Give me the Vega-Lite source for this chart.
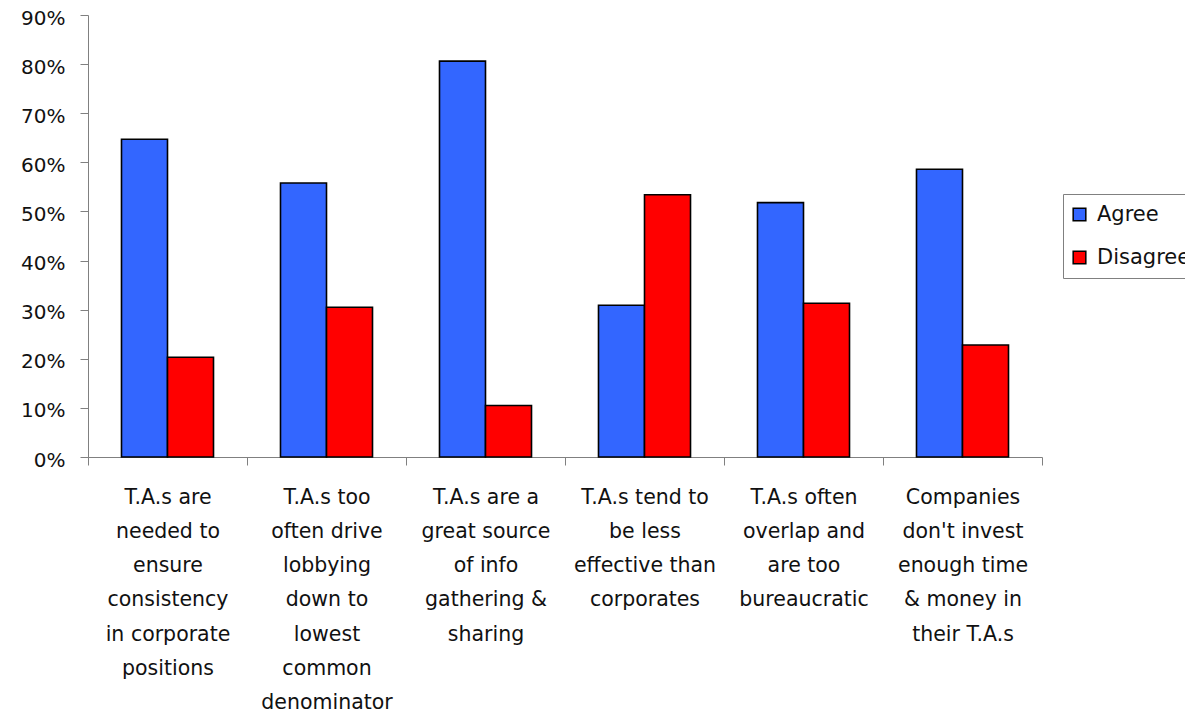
{
  "$schema": "https://vega.github.io/schema/vega-lite/v6.json",
  "width": 954,
  "height": 442,
  "autosize": "none",
  "padding": {"left": 88, "top": 15, "right": 143, "bottom": 256},
  "background": "white",
  "config": {"view": {"stroke": null}, "font": "DejaVu Sans"},
  "data": {
    "values": [
      {"statement": "T.A.s are|needed to|ensure|consistency|in corporate|positions", "response": "Agree", "share": 0.647},
      {"statement": "T.A.s are|needed to|ensure|consistency|in corporate|positions", "response": "Disagree", "share": 0.203},
      {"statement": "T.A.s too|often drive|lobbying|down to|lowest|common|denominator", "response": "Agree", "share": 0.558},
      {"statement": "T.A.s too|often drive|lobbying|down to|lowest|common|denominator", "response": "Disagree", "share": 0.305},
      {"statement": "T.A.s are a|great source|of info|gathering &|sharing", "response": "Agree", "share": 0.806},
      {"statement": "T.A.s are a|great source|of info|gathering &|sharing", "response": "Disagree", "share": 0.105},
      {"statement": "T.A.s tend to|be less|effective than|corporates", "response": "Agree", "share": 0.309},
      {"statement": "T.A.s tend to|be less|effective than|corporates", "response": "Disagree", "share": 0.534},
      {"statement": "T.A.s often|overlap and|are too|bureaucratic", "response": "Agree", "share": 0.518},
      {"statement": "T.A.s often|overlap and|are too|bureaucratic", "response": "Disagree", "share": 0.313},
      {"statement": "Companies|don't invest|enough time|& money in|their T.A.s", "response": "Agree", "share": 0.586},
      {"statement": "Companies|don't invest|enough time|& money in|their T.A.s", "response": "Disagree", "share": 0.228}
    ]
  },
  "mark": {"type": "bar", "stroke": "black", "strokeWidth": 1.6},
  "encoding": {
    "x": {
      "field": "statement",
      "type": "nominal",
      "sort": null,
      "scale": {"paddingInner": 0, "paddingOuter": 0},
      "axis": {
        "title": null,
        "labelAngle": 0,
        "labelExpr": "isValid(datum.value) ? split(datum.value, '|') : ''",
        "labelLineHeight": 34.3,
        "labelFontSize": 20.5,
        "labelColor": "#111111",
        "labelBaseline": "top",
        "labelPadding": 22,
        "labelAlign": "center",
        "labelLimit": 0,
        "tickBand": "extent",
        "tickSize": 8,
        "tickColor": "#808080",
        "domainColor": "#808080",
        "labelFont": "DejaVu Sans"
      }
    },
    "xOffset": {"field": "response", "type": "nominal", "scale": {"paddingInner": 0, "paddingOuter": 0.728}},
    "y": {
      "field": "share",
      "type": "quantitative",
      "scale": {"domain": [0, 0.9], "nice": false},
      "axis": {
        "title": null,
        "format": ".0%",
        "values": [0, 0.1, 0.2, 0.3, 0.4, 0.5, 0.6, 0.7, 0.8, 0.9],
        "grid": false,
        "tickSize": 8,
        "tickColor": "#808080",
        "domainColor": "#808080",
        "labelFontSize": 20,
        "labelColor": "#111111",
        "labelPadding": 15,
        "labelOffset": 3,
        "labelFont": "DejaVu Sans"
      }
    },
    "color": {
      "field": "response",
      "type": "nominal",
      "scale": {"domain": ["Agree", "Disagree"], "range": ["#3366FF", "#FF0000"]},
      "legend": {
        "title": null,
        "orient": "none",
        "legendX": 975,
        "legendY": 179,
        "symbolType": "square",
        "symbolSize": 160,
        "symbolStrokeColor": "black",
        "symbolStrokeWidth": 1.5,
        "symbolOffset": -4,
        "labelFontSize": 21,
        "labelColor": "#111111",
        "labelFont": "DejaVu Sans",
        "rowPadding": 21,
        "padding": 10,
        "strokeColor": "#808080",
        "fillColor": "white",
        "labelOffset": 7
      }
    }
  }
}
